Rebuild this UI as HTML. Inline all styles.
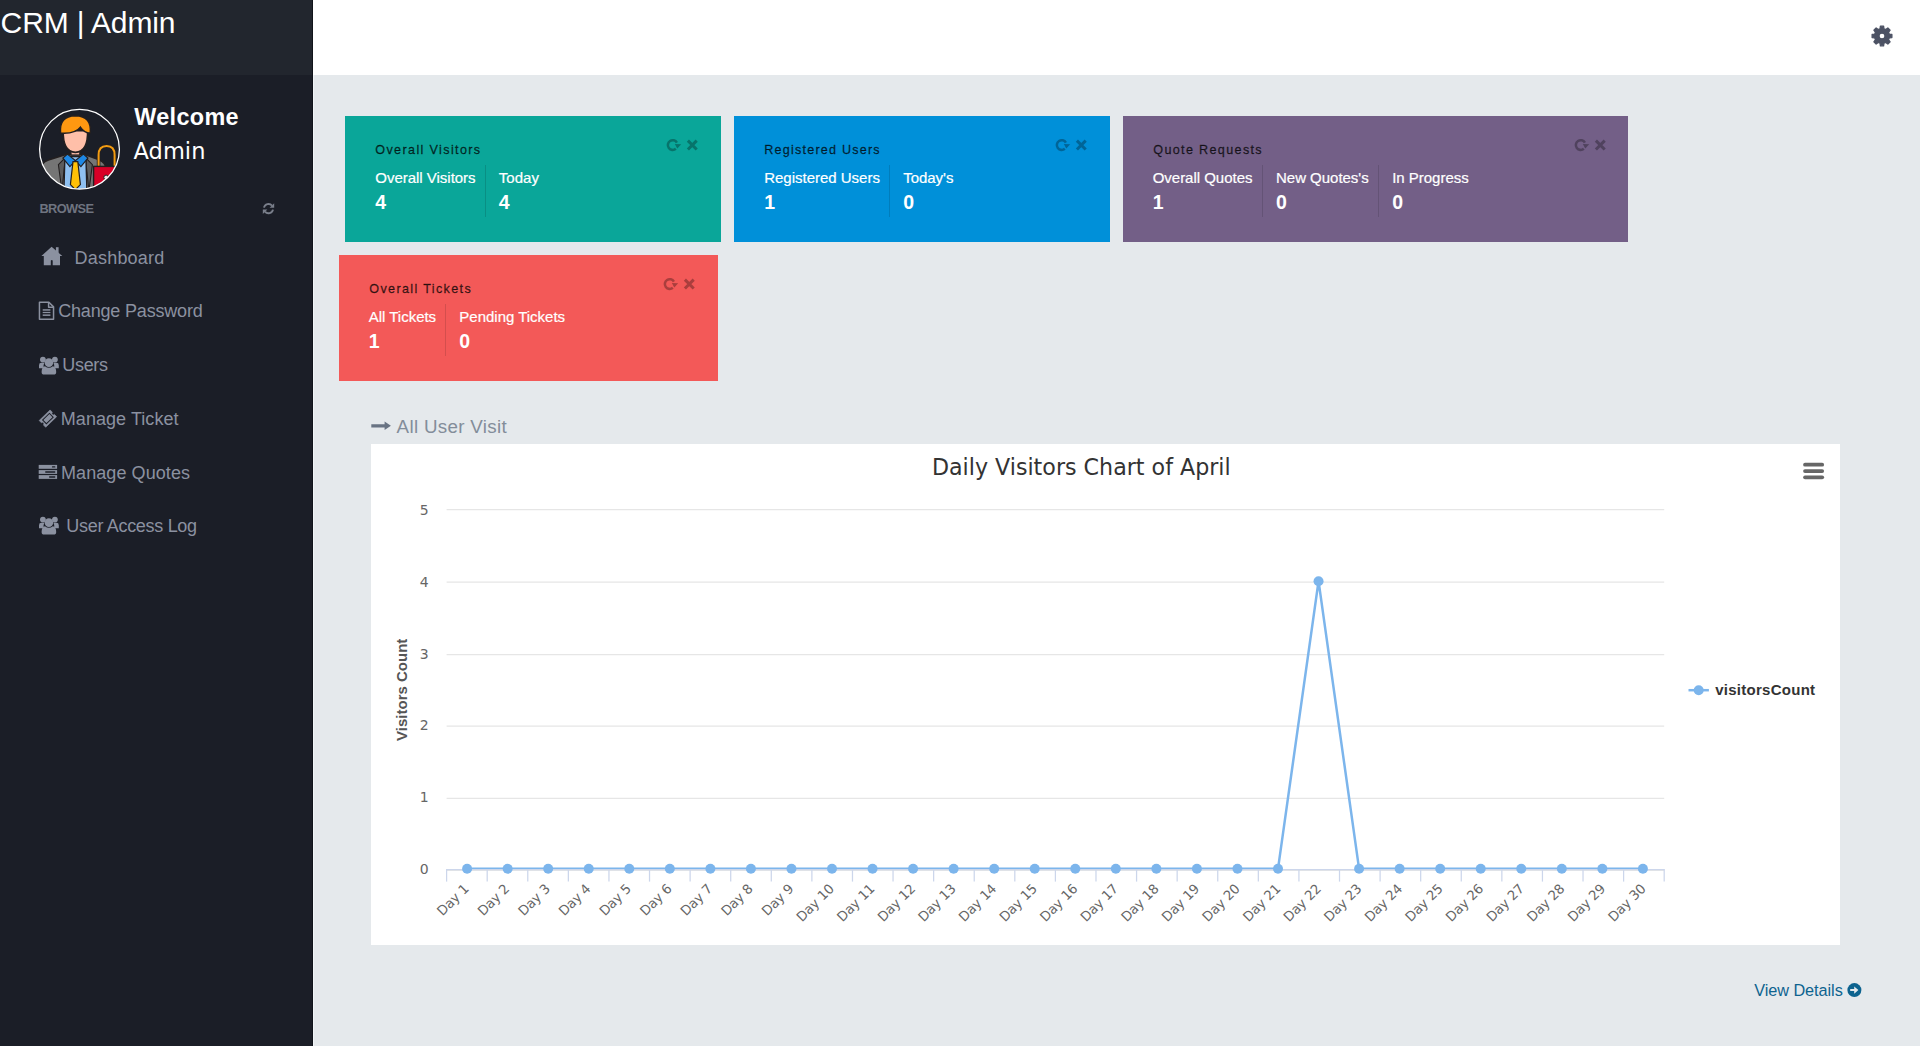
<!DOCTYPE html>
<html lang="en">
<head>
<meta charset="utf-8">
<title>CRM | Admin Dashboard</title>
<style>
*{margin:0;padding:0;box-sizing:border-box}
html,body{width:1920px;height:1046px;overflow:hidden}
body{position:relative;background:#e5e9ec;font-family:"Liberation Sans",Arial,sans-serif;color:#fff}
.abs,.t{position:absolute}
.t{white-space:nowrap;line-height:1;display:block}
.sidebar{position:absolute;left:0;top:0;width:313px;height:1046px;background:#1b1e27}
.brand{position:absolute;left:0;top:0;width:313px;height:75px;background:#22262e}
.topbar{position:absolute;left:313px;top:0;width:1607px;height:75px;background:#fff}
.card{position:absolute;height:126px}
.c1{left:345px;top:116px;width:376px;background:#0aa699}
.c2{left:734px;top:116px;width:376px;background:#0090d9}
.c3{left:1123px;top:116px;width:505px;background:#735f87}
.c4{left:339px;top:255px;width:379px;background:#f35958}
.div{position:absolute;width:1px}
.chartbox{position:absolute;left:371px;top:444px;width:1469px;height:501px;background:#fff}
svg{position:absolute;overflow:visible}
svg.chart{left:0;top:0}
.chart text{font-family:"DejaVu Sans","Liberation Sans",sans-serif}
.chart .yl{font-size:14px;fill:#666}
.chart .xl{letter-spacing:-.15px;font-size:13.3px;fill:#666}
.chart .yt{font-size:15px;font-weight:bold;fill:#555;font-family:"Liberation Sans",sans-serif}
.chart .ct{font-size:22.18px;fill:#333}
.chart .lg{font-size:15px;font-weight:bold;fill:#333;font-family:"Liberation Sans",sans-serif;letter-spacing:.27px}
a{text-decoration:none;color:inherit}
ul{list-style:none}
h3,h4,p,strong{font-weight:normal}
</style>
</head>
<body>
<header>
<div class="topbar"></div>
<svg style="left:1862px;top:16px" width="40" height="40" viewBox="0 0 40 40"><path d="M18.07 12.75 L18.41 10.13 L21.59 10.13 L21.93 12.75 L23.76 13.51 L25.85 11.89 L28.11 14.15 L26.49 16.24 L27.25 18.07 L29.87 18.41 L29.87 21.59 L27.25 21.93 L26.49 23.76 L28.11 25.85 L25.85 28.11 L23.76 26.49 L21.93 27.25 L21.59 29.87 L18.41 29.87 L18.07 27.25 L16.24 26.49 L14.15 28.11 L11.89 25.85 L13.51 23.76 L12.75 21.93 L10.13 21.59 L10.13 18.41 L12.75 18.07 L13.51 16.24 L11.89 14.15 L14.15 11.89 L16.24 13.51 Z M23.00 20.00 A3.0 3.0 0 1 0 17.00 20.00 A3.0 3.0 0 1 0 23.00 20.00 Z" fill="#4c5264" fill-rule="evenodd" stroke="#4c5264" stroke-width="1.3" stroke-linejoin="round"/></svg>
</header>
<aside>
<div class="sidebar"></div><div class="brand"></div><div class="abs" style="left:312px;top:0;width:1px;height:1046px;background:#11141b"></div><div class="abs" style="left:313px;top:75px;width:1px;height:971px;background:#f1f4f7"></div>
<h3 class="t" style="left:0.60px;top:7.70px;font:normal 30px/1 'Liberation Sans',Arial,sans-serif;color:#fff;letter-spacing:-0.126px;">CRM | Admin</h3>
<svg style="left:36px;top:106px" width="88" height="88" viewBox="0 0 88 88">
<defs><clipPath id="avc"><circle cx="43.5" cy="43.3" r="39.6"/></clipPath></defs>
<circle cx="43.5" cy="43.3" r="40" fill="#1b1e27"/>
<g clip-path="url(#avc)">
<g transform="translate(-1.6 0.6)">
<path d="M6 84 V64 Q6 56 14 53.500 L33 47.500 H49 L64 53 Q72 56 72 64 V84 Z" fill="#757575" stroke="#231f20" stroke-width="1.6"/>
<path d="M27.500 84 L31 51 L24 58 Z M54.500 84 L51 51 L58 58 Z" fill="#5c5c5c" stroke="#231f20" stroke-width="1.1"/>
<path d="M29.500 84 L30.500 50 H51.500 L52.500 84 Z" fill="#8fc0f0" stroke="#231f20" stroke-width="1.4"/>
<path d="M33 47.500 L41 54 L35.500 60 L28.500 51.500 Z" fill="#1e88e5" stroke="#231f20" stroke-width="1.2"/>
<path d="M49 47.500 L41 54 L46.500 60 L53.500 51.500 Z" fill="#1e88e5" stroke="#231f20" stroke-width="1.2"/>
<path d="M38.600 55 H43.400 L46 78 L41 83 L36 78 Z" fill="#ffc107" stroke="#231f20" stroke-width="1.2"/>
<rect x="36.500" y="40" width="9" height="8.500" fill="#fbb9a4" stroke="#231f20" stroke-width="1.4"/>
<path d="M28.800 24 Q28.300 45.500 41 45.800 Q53.700 45.500 53.200 24 Z" fill="#ffbfa9" stroke="#231f20" stroke-width="1.6"/>
<path d="M26.200 26.500 Q24.500 9.500 41 9.200 Q57.500 9.500 55.800 26.500 Q50 26.500 46 20.500 Q41 27.500 26.200 26.500 Z" fill="#ff9811" stroke="#231f20" stroke-width="1.4"/>
</g>
<g transform="translate(2.6 1.4)">
<path d="M60 60 V47.500 Q60 38.500 68 38.500 Q76 38.500 76 47.500 V60" fill="none" stroke="#231f20" stroke-width="3.6"/>
<path d="M60 60 V47.500 Q60 38.500 68 38.500 Q76 38.500 76 47.500 V60" fill="none" stroke="#f39c12" stroke-width="2"/>
<rect x="55" y="59" width="30" height="30" fill="#d80027" stroke="#231f20" stroke-width="1.4"/>
<circle cx="67.500" cy="70" r="2.300" fill="#e8e8e8" stroke="#231f20" stroke-width="1"/>
</g>
</g>
<circle cx="43.5" cy="43.3" r="39.9" fill="none" stroke="#fff" stroke-width="1.25"/>
</svg>
<span class="t" style="left:134.20px;top:106.19px;font:bold 23.4px/1 'Liberation Sans',Arial,sans-serif;color:#fff;letter-spacing:0.349px;">Welcome</span>
<span class="t" style="left:133.60px;top:140.16px;font:normal 22.5px/1 'DejaVu Sans','Liberation Sans',sans-serif;color:#fff;letter-spacing:0.023px;">Admin</span>
<p class="t" style="left:39.50px;top:203.36px;font:bold 12.8px/1 'Liberation Sans',Arial,sans-serif;color:#6f7480;letter-spacing:-0.620px;">BROWSE</p>
<svg style="left:259px;top:200px" width="20" height="18" viewBox="0 0 20 18"><g fill="none" stroke="#7a7f8b" stroke-width="1.9"><path d="M5.0 7.6 A4.6 4.6 0 0 1 13.0 5.6"/><path d="M14.0 9.6 A4.6 4.6 0 0 1 6.0 11.6"/></g><g fill="#7a7f8b"><path d="M15.2 3.2 V7.8 H10.6 Z"/><path d="M3.8 14.0 V9.4 H8.4 Z"/></g></svg>
<nav><ul>
<li><svg style="left:36px;top:242px" width="32" height="28" viewBox="0 0 32 28"><g fill="#8b91a0"><path d="M15.6 4.7 L26.3 13.9 H24.0 V23.2 H16.7 V18.4 Q15.75 17.6 14.8 18.4 V23.2 H7.8 V13.9 H5.4 Z"/><rect x="19.9" y="5.2" width="2.7" height="6"/></g></svg><a class="t" href="#" style="left:74.60px;top:248.76px;font:normal 18.0px/1 'Liberation Sans',Arial,sans-serif;color:#8b91a0;letter-spacing:0.193px;">Dashboard</a></li>
<li><svg style="left:36px;top:298px" width="24" height="26" viewBox="0 0 24 26"><g fill="none" stroke="#8b91a0" stroke-width="1.5" stroke-linejoin="round"><path d="M3.45 4.25 H12.9 L17.55 8.9 V21.2 H3.45 Z"/><path d="M12.6 4.5 V9.2 H17.3"/></g><g fill="#8b91a0"><rect x="6.7" y="11.2" width="7.7" height="1.5"/><rect x="6.7" y="13.9" width="7.7" height="1.2"/><rect x="6.7" y="16.4" width="7.7" height="1.5"/></g></svg><a class="t" href="#" style="left:58.20px;top:302.06px;font:normal 18.0px/1 'Liberation Sans',Arial,sans-serif;color:#8b91a0;letter-spacing:-0.178px;">Change Password</a></li>
<li><svg style="left:36.9px;top:353.6px" width="24" height="23" viewBox="0 0 24 23"><g fill="#8b91a0"><circle cx="5.9" cy="5.6" r="2.9"/><circle cx="17.9" cy="5.6" r="2.9"/><path d="M2 14.2 V11.2 Q2 8.8 4.4 8.8 H7.4 Q6.2 10.6 6.6 14.2 Z"/><path d="M21.8 14.2 V11.2 Q21.8 8.8 19.4 8.8 H16.4 Q17.6 10.6 17.2 14.2 Z"/><circle cx="11.9" cy="8.6" r="4.3"/><path d="M4.6 18.0 Q4.6 12.6 8.0 12.2 Q11.9 15.4 15.8 12.2 Q19.2 12.6 19.2 18.0 Q19.2 20.6 16.6 20.6 H7.2 Q4.6 20.6 4.6 18.0 Z"/></g></svg><a class="t" href="#" style="left:62.30px;top:355.56px;font:normal 18.0px/1 'Liberation Sans',Arial,sans-serif;color:#8b91a0;letter-spacing:-0.327px;">Users</a></li>
<li><svg style="left:36px;top:407px" width="24" height="23" viewBox="0 0 24 23"><g transform="translate(11.9 11.6) rotate(-44)"><path d="M-7.6 -4.7 H7.6 V-1.5 A1.5 1.5 0 0 0 7.6 1.5 V4.7 H-7.6 V1.5 A1.5 1.5 0 0 0 -7.6 -1.5 Z" fill="#8b91a0" stroke="#8b91a0" stroke-width=".6" stroke-linejoin="round"/><rect x="-4.7" y="-2.7" width="9.4" height="5.4" fill="none" stroke="#1b1e27" stroke-width="1.0"/></g></svg><a class="t" href="#" style="left:60.80px;top:409.56px;font:normal 18.0px/1 'Liberation Sans',Arial,sans-serif;color:#8b91a0;letter-spacing:0.053px;">Manage Ticket</a></li>
<li><svg style="left:36px;top:462px" width="24" height="20" viewBox="0 0 24 20"><g fill="#8b91a0"><rect x="2.7" y="2.9" width="18.4" height="3.9"/><rect x="2.7" y="8.1" width="18.4" height="3.8"/><rect x="2.7" y="13.1" width="18.4" height="3.8"/></g><g fill="#1b1e27"><rect x="15.9" y="4.2" width="3.5" height="1.3" rx=".6"/><rect x="9.1" y="9.3" width="10.3" height="1.4" rx=".6"/><rect x="13.0" y="14.3" width="6.4" height="1.4" rx=".6"/></g></svg><a class="t" href="#" style="left:61.00px;top:464.26px;font:normal 18.0px/1 'Liberation Sans',Arial,sans-serif;color:#8b91a0;letter-spacing:0.076px;">Manage Quotes</a></li>
<li><svg style="left:37.1px;top:514.4px" width="24" height="23" viewBox="0 0 24 23"><g fill="#8b91a0"><circle cx="5.9" cy="5.6" r="2.9"/><circle cx="17.9" cy="5.6" r="2.9"/><path d="M2 14.2 V11.2 Q2 8.8 4.4 8.8 H7.4 Q6.2 10.6 6.6 14.2 Z"/><path d="M21.8 14.2 V11.2 Q21.8 8.8 19.4 8.8 H16.4 Q17.6 10.6 17.2 14.2 Z"/><circle cx="11.9" cy="8.6" r="4.3"/><path d="M4.6 18.0 Q4.6 12.6 8.0 12.2 Q11.9 15.4 15.8 12.2 Q19.2 12.6 19.2 18.0 Q19.2 20.6 16.6 20.6 H7.2 Q4.6 20.6 4.6 18.0 Z"/></g></svg><a class="t" href="#" style="left:66.30px;top:516.76px;font:normal 18.0px/1 'Liberation Sans',Arial,sans-serif;color:#8b91a0;letter-spacing:-0.305px;">User Access Log</a></li>
</ul></nav>
</aside>
<main>
<section class="tile">
<div class="card c1"></div>
<h4 class="t" style="left:375.30px;top:143.53px;font:normal 12.6px/1 'Liberation Sans',Arial,sans-serif;color:rgba(0,0,0,.72);letter-spacing:1.361px;-webkit-text-stroke:.3px rgba(0,0,0,.72);">Overall Visitors</h4>
<span class="t" style="left:375.30px;top:169.70px;font:normal 15px/1 'Liberation Sans',Arial,sans-serif;color:#fff;letter-spacing:-0.019px;-webkit-text-stroke:.2px #fff;">Overall Visitors</span>
<strong class="t" style="left:375.30px;top:192.89px;font:bold 19.5px/1 'Liberation Sans',Arial,sans-serif;color:#fff;">4</strong>
<span class="t" style="left:498.80px;top:169.70px;font:normal 15px/1 'Liberation Sans',Arial,sans-serif;color:#fff;letter-spacing:0.018px;-webkit-text-stroke:.2px #fff;">Today</span>
<strong class="t" style="left:498.80px;top:192.89px;font:bold 19.5px/1 'Liberation Sans',Arial,sans-serif;color:#fff;">4</strong>
<div class="div" style="left:485px;top:165px;height:52px;background:#098f84"></div>
<svg style="left:665.40px;top:137.40px" width="36" height="16" viewBox="0 0 36 16"><path d="M11.90 5.63 A4.85 4.85 0 1 0 10.82 11.77" fill="none" stroke="#07746b" stroke-width="2.55"/><path d="M9.8 6.9 L16.2 7.2 L12.3 11.4 Z" fill="#07746b"/><path d="M22.9 3.65 L31.7 12.45 M31.7 3.65 L22.9 12.45" stroke="#07746b" stroke-width="3.0" fill="none"/></svg>
</section>
<section class="tile">
<div class="card c2"></div>
<h4 class="t" style="left:764.30px;top:143.53px;font:normal 12.6px/1 'Liberation Sans',Arial,sans-serif;color:rgba(0,0,0,.72);letter-spacing:1.204px;-webkit-text-stroke:.3px rgba(0,0,0,.72);">Registered Users</h4>
<span class="t" style="left:764.20px;top:169.70px;font:normal 15px/1 'Liberation Sans',Arial,sans-serif;color:#fff;letter-spacing:-0.012px;-webkit-text-stroke:.2px #fff;">Registered Users</span>
<strong class="t" style="left:764.20px;top:192.89px;font:bold 19.5px/1 'Liberation Sans',Arial,sans-serif;color:#fff;">1</strong>
<span class="t" style="left:903.20px;top:169.70px;font:normal 15px/1 'Liberation Sans',Arial,sans-serif;color:#fff;letter-spacing:-0.032px;-webkit-text-stroke:.2px #fff;">Today&#x27;s</span>
<strong class="t" style="left:903.20px;top:192.89px;font:bold 19.5px/1 'Liberation Sans',Arial,sans-serif;color:#fff;">0</strong>
<div class="div" style="left:889px;top:165px;height:52px;background:#007dbc"></div>
<svg style="left:1054.40px;top:137.40px" width="36" height="16" viewBox="0 0 36 16"><path d="M11.90 5.63 A4.85 4.85 0 1 0 10.82 11.77" fill="none" stroke="#006598" stroke-width="2.55"/><path d="M9.8 6.9 L16.2 7.2 L12.3 11.4 Z" fill="#006598"/><path d="M22.9 3.65 L31.7 12.45 M31.7 3.65 L22.9 12.45" stroke="#006598" stroke-width="3.0" fill="none"/></svg>
</section>
<section class="tile">
<div class="card c3"></div>
<h4 class="t" style="left:1153.30px;top:143.53px;font:normal 12.6px/1 'Liberation Sans',Arial,sans-serif;color:rgba(0,0,0,.72);letter-spacing:1.334px;-webkit-text-stroke:.3px rgba(0,0,0,.72);">Quote Requests</h4>
<span class="t" style="left:1152.70px;top:169.70px;font:normal 15px/1 'Liberation Sans',Arial,sans-serif;color:#fff;letter-spacing:-0.019px;-webkit-text-stroke:.2px #fff;">Overall Quotes</span>
<strong class="t" style="left:1152.70px;top:192.89px;font:bold 19.5px/1 'Liberation Sans',Arial,sans-serif;color:#fff;">1</strong>
<span class="t" style="left:1276.00px;top:169.70px;font:normal 15px/1 'Liberation Sans',Arial,sans-serif;color:#fff;letter-spacing:-0.018px;-webkit-text-stroke:.2px #fff;">New Quotes&#x27;s</span>
<strong class="t" style="left:1276.00px;top:192.89px;font:bold 19.5px/1 'Liberation Sans',Arial,sans-serif;color:#fff;">0</strong>
<span class="t" style="left:1392.20px;top:169.70px;font:normal 15px/1 'Liberation Sans',Arial,sans-serif;color:#fff;letter-spacing:-0.020px;-webkit-text-stroke:.2px #fff;">In Progress</span>
<strong class="t" style="left:1392.20px;top:192.89px;font:bold 19.5px/1 'Liberation Sans',Arial,sans-serif;color:#fff;">0</strong>
<div class="div" style="left:1262px;top:165px;height:52px;background:#645376"></div>
<div class="div" style="left:1378px;top:165px;height:52px;background:#645376"></div>
<svg style="left:1572.80px;top:137.40px" width="36" height="16" viewBox="0 0 36 16"><path d="M11.90 5.63 A4.85 4.85 0 1 0 10.82 11.77" fill="none" stroke="#50425e" stroke-width="2.55"/><path d="M9.8 6.9 L16.2 7.2 L12.3 11.4 Z" fill="#50425e"/><path d="M22.9 3.65 L31.7 12.45 M31.7 3.65 L22.9 12.45" stroke="#50425e" stroke-width="3.0" fill="none"/></svg>
</section>
<section class="tile">
<div class="card c4"></div>
<h4 class="t" style="left:369.30px;top:282.53px;font:normal 12.6px/1 'Liberation Sans',Arial,sans-serif;color:rgba(0,0,0,.72);letter-spacing:1.349px;-webkit-text-stroke:.3px rgba(0,0,0,.72);">Overall Tickets</h4>
<span class="t" style="left:368.80px;top:308.70px;font:normal 15px/1 'Liberation Sans',Arial,sans-serif;color:#fff;letter-spacing:-0.022px;-webkit-text-stroke:.2px #fff;">All Tickets</span>
<strong class="t" style="left:368.80px;top:331.89px;font:bold 19.5px/1 'Liberation Sans',Arial,sans-serif;color:#fff;">1</strong>
<span class="t" style="left:459.30px;top:308.70px;font:normal 15px/1 'Liberation Sans',Arial,sans-serif;color:#fff;letter-spacing:-0.007px;-webkit-text-stroke:.2px #fff;">Pending Tickets</span>
<strong class="t" style="left:459.30px;top:331.89px;font:bold 19.5px/1 'Liberation Sans',Arial,sans-serif;color:#fff;">0</strong>
<div class="div" style="left:445px;top:304px;height:52px;background:#d44e4d"></div>
<svg style="left:662.40px;top:276.40px" width="36" height="16" viewBox="0 0 36 16"><path d="M11.90 5.63 A4.85 4.85 0 1 0 10.82 11.77" fill="none" stroke="#aa3e3d" stroke-width="2.55"/><path d="M9.8 6.9 L16.2 7.2 L12.3 11.4 Z" fill="#aa3e3d"/><path d="M22.9 3.65 L31.7 12.45 M31.7 3.65 L22.9 12.45" stroke="#aa3e3d" stroke-width="3.0" fill="none"/></svg>
</section>
<section class="visits">
<svg style="left:369px;top:418px" width="26" height="16" viewBox="0 0 26 16"><path d="M2.3 6.2 H15.6 V3.6 L21.9 7.8 L15.6 12.0 V9.4 H2.3 Z" fill="#687383"/></svg>
<h4 class="t" style="left:396.60px;top:417.68px;font:normal 18.8px/1 'Liberation Sans',Arial,sans-serif;color:#838d9a;letter-spacing:0.307px;">All User Visit</h4>
<div class="chartbox"><svg class="chart" width="1469" height="501" viewBox="0 0 1469 501">
<defs><clipPath id="plotclip"><rect x="75.6" y="0" width="1217.6" height="425.1"/></clipPath></defs>
<line x1="75.6" x2="1293.2" y1="426.30" y2="426.30" stroke="#e6e6e6" stroke-width="1.25"/>
<line x1="75.6" x2="1293.2" y1="354.30" y2="354.30" stroke="#e6e6e6" stroke-width="1.25"/>
<line x1="75.6" x2="1293.2" y1="282.00" y2="282.00" stroke="#e6e6e6" stroke-width="1.25"/>
<line x1="75.6" x2="1293.2" y1="210.50" y2="210.50" stroke="#e6e6e6" stroke-width="1.25"/>
<line x1="75.6" x2="1293.2" y1="138.10" y2="138.10" stroke="#e6e6e6" stroke-width="1.25"/>
<line x1="75.6" x2="1293.2" y1="65.60" y2="65.60" stroke="#e6e6e6" stroke-width="1.25"/>
<line x1="75.0" x2="1293.8" y1="425.60" y2="425.60" stroke="#ccd6eb" stroke-width="1.25"/>
<line x1="75.60" x2="75.60" y1="425.60" y2="437.60" stroke="#ccd6eb" stroke-width="1.25"/>
<line x1="116.19" x2="116.19" y1="425.60" y2="437.60" stroke="#ccd6eb" stroke-width="1.25"/>
<line x1="156.77" x2="156.77" y1="425.60" y2="437.60" stroke="#ccd6eb" stroke-width="1.25"/>
<line x1="197.36" x2="197.36" y1="425.60" y2="437.60" stroke="#ccd6eb" stroke-width="1.25"/>
<line x1="237.95" x2="237.95" y1="425.60" y2="437.60" stroke="#ccd6eb" stroke-width="1.25"/>
<line x1="278.53" x2="278.53" y1="425.60" y2="437.60" stroke="#ccd6eb" stroke-width="1.25"/>
<line x1="319.12" x2="319.12" y1="425.60" y2="437.60" stroke="#ccd6eb" stroke-width="1.25"/>
<line x1="359.71" x2="359.71" y1="425.60" y2="437.60" stroke="#ccd6eb" stroke-width="1.25"/>
<line x1="400.29" x2="400.29" y1="425.60" y2="437.60" stroke="#ccd6eb" stroke-width="1.25"/>
<line x1="440.88" x2="440.88" y1="425.60" y2="437.60" stroke="#ccd6eb" stroke-width="1.25"/>
<line x1="481.47" x2="481.47" y1="425.60" y2="437.60" stroke="#ccd6eb" stroke-width="1.25"/>
<line x1="522.05" x2="522.05" y1="425.60" y2="437.60" stroke="#ccd6eb" stroke-width="1.25"/>
<line x1="562.64" x2="562.64" y1="425.60" y2="437.60" stroke="#ccd6eb" stroke-width="1.25"/>
<line x1="603.23" x2="603.23" y1="425.60" y2="437.60" stroke="#ccd6eb" stroke-width="1.25"/>
<line x1="643.81" x2="643.81" y1="425.60" y2="437.60" stroke="#ccd6eb" stroke-width="1.25"/>
<line x1="684.40" x2="684.40" y1="425.60" y2="437.60" stroke="#ccd6eb" stroke-width="1.25"/>
<line x1="724.99" x2="724.99" y1="425.60" y2="437.60" stroke="#ccd6eb" stroke-width="1.25"/>
<line x1="765.57" x2="765.57" y1="425.60" y2="437.60" stroke="#ccd6eb" stroke-width="1.25"/>
<line x1="806.16" x2="806.16" y1="425.60" y2="437.60" stroke="#ccd6eb" stroke-width="1.25"/>
<line x1="846.75" x2="846.75" y1="425.60" y2="437.60" stroke="#ccd6eb" stroke-width="1.25"/>
<line x1="887.33" x2="887.33" y1="425.60" y2="437.60" stroke="#ccd6eb" stroke-width="1.25"/>
<line x1="927.92" x2="927.92" y1="425.60" y2="437.60" stroke="#ccd6eb" stroke-width="1.25"/>
<line x1="968.51" x2="968.51" y1="425.60" y2="437.60" stroke="#ccd6eb" stroke-width="1.25"/>
<line x1="1009.09" x2="1009.09" y1="425.60" y2="437.60" stroke="#ccd6eb" stroke-width="1.25"/>
<line x1="1049.68" x2="1049.68" y1="425.60" y2="437.60" stroke="#ccd6eb" stroke-width="1.25"/>
<line x1="1090.27" x2="1090.27" y1="425.60" y2="437.60" stroke="#ccd6eb" stroke-width="1.25"/>
<line x1="1130.85" x2="1130.85" y1="425.60" y2="437.60" stroke="#ccd6eb" stroke-width="1.25"/>
<line x1="1171.44" x2="1171.44" y1="425.60" y2="437.60" stroke="#ccd6eb" stroke-width="1.25"/>
<line x1="1212.03" x2="1212.03" y1="425.60" y2="437.60" stroke="#ccd6eb" stroke-width="1.25"/>
<line x1="1252.61" x2="1252.61" y1="425.60" y2="437.60" stroke="#ccd6eb" stroke-width="1.25"/>
<line x1="1293.20" x2="1293.20" y1="425.60" y2="437.60" stroke="#ccd6eb" stroke-width="1.25"/>
<text x="57.6" y="430.00" text-anchor="end" class="yl">0</text>
<text x="57.6" y="358.20" text-anchor="end" class="yl">1</text>
<text x="57.6" y="286.40" text-anchor="end" class="yl">2</text>
<text x="57.6" y="214.60" text-anchor="end" class="yl">3</text>
<text x="57.6" y="142.80" text-anchor="end" class="yl">4</text>
<text x="57.6" y="71.00" text-anchor="end" class="yl">5</text>
<text transform="translate(36.2,245.8) rotate(-90)" text-anchor="middle" class="yt">Visitors Count</text>
<text x="710.3" y="30.5" text-anchor="middle" class="ct">Daily Visitors Chart of April</text>
<polyline clip-path="url(#plotclip)" points="96.10,424.80 136.65,424.80 177.19,424.80 217.74,424.80 258.28,424.80 298.83,424.80 339.37,424.80 379.91,424.80 420.46,424.80 461.01,424.80 501.55,424.80 542.10,424.80 582.64,424.80 623.19,424.80 663.73,424.80 704.28,424.80 744.82,424.80 785.37,424.80 825.91,424.80 866.45,424.80 907.00,424.80 947.55,137.20 988.09,424.80 1028.64,424.80 1069.18,424.80 1109.72,424.80 1150.27,424.80 1190.82,424.80 1231.36,424.80 1271.91,424.80" fill="none" stroke="#7cb5ec" stroke-width="2.5" stroke-linejoin="round" stroke-linecap="round"/>
<circle cx="96.10" cy="424.80" r="5" fill="#7cb5ec"/>
<circle cx="136.65" cy="424.80" r="5" fill="#7cb5ec"/>
<circle cx="177.19" cy="424.80" r="5" fill="#7cb5ec"/>
<circle cx="217.74" cy="424.80" r="5" fill="#7cb5ec"/>
<circle cx="258.28" cy="424.80" r="5" fill="#7cb5ec"/>
<circle cx="298.83" cy="424.80" r="5" fill="#7cb5ec"/>
<circle cx="339.37" cy="424.80" r="5" fill="#7cb5ec"/>
<circle cx="379.91" cy="424.80" r="5" fill="#7cb5ec"/>
<circle cx="420.46" cy="424.80" r="5" fill="#7cb5ec"/>
<circle cx="461.01" cy="424.80" r="5" fill="#7cb5ec"/>
<circle cx="501.55" cy="424.80" r="5" fill="#7cb5ec"/>
<circle cx="542.10" cy="424.80" r="5" fill="#7cb5ec"/>
<circle cx="582.64" cy="424.80" r="5" fill="#7cb5ec"/>
<circle cx="623.19" cy="424.80" r="5" fill="#7cb5ec"/>
<circle cx="663.73" cy="424.80" r="5" fill="#7cb5ec"/>
<circle cx="704.28" cy="424.80" r="5" fill="#7cb5ec"/>
<circle cx="744.82" cy="424.80" r="5" fill="#7cb5ec"/>
<circle cx="785.37" cy="424.80" r="5" fill="#7cb5ec"/>
<circle cx="825.91" cy="424.80" r="5" fill="#7cb5ec"/>
<circle cx="866.45" cy="424.80" r="5" fill="#7cb5ec"/>
<circle cx="907.00" cy="424.80" r="5" fill="#7cb5ec"/>
<circle cx="947.55" cy="137.20" r="5" fill="#7cb5ec"/>
<circle cx="988.09" cy="424.80" r="5" fill="#7cb5ec"/>
<circle cx="1028.64" cy="424.80" r="5" fill="#7cb5ec"/>
<circle cx="1069.18" cy="424.80" r="5" fill="#7cb5ec"/>
<circle cx="1109.72" cy="424.80" r="5" fill="#7cb5ec"/>
<circle cx="1150.27" cy="424.80" r="5" fill="#7cb5ec"/>
<circle cx="1190.82" cy="424.80" r="5" fill="#7cb5ec"/>
<circle cx="1231.36" cy="424.80" r="5" fill="#7cb5ec"/>
<circle cx="1271.91" cy="424.80" r="5" fill="#7cb5ec"/>
<text transform="translate(98.59,445.60) rotate(-45)" text-anchor="end" class="xl">Day 1</text>
<text transform="translate(139.18,445.60) rotate(-45)" text-anchor="end" class="xl">Day 2</text>
<text transform="translate(179.77,445.60) rotate(-45)" text-anchor="end" class="xl">Day 3</text>
<text transform="translate(220.35,445.60) rotate(-45)" text-anchor="end" class="xl">Day 4</text>
<text transform="translate(260.94,445.60) rotate(-45)" text-anchor="end" class="xl">Day 5</text>
<text transform="translate(301.53,445.60) rotate(-45)" text-anchor="end" class="xl">Day 6</text>
<text transform="translate(342.11,445.60) rotate(-45)" text-anchor="end" class="xl">Day 7</text>
<text transform="translate(382.70,445.60) rotate(-45)" text-anchor="end" class="xl">Day 8</text>
<text transform="translate(423.29,445.60) rotate(-45)" text-anchor="end" class="xl">Day 9</text>
<text transform="translate(463.87,445.60) rotate(-45)" text-anchor="end" class="xl">Day 10</text>
<text transform="translate(504.46,445.60) rotate(-45)" text-anchor="end" class="xl">Day 11</text>
<text transform="translate(545.05,445.60) rotate(-45)" text-anchor="end" class="xl">Day 12</text>
<text transform="translate(585.63,445.60) rotate(-45)" text-anchor="end" class="xl">Day 13</text>
<text transform="translate(626.22,445.60) rotate(-45)" text-anchor="end" class="xl">Day 14</text>
<text transform="translate(666.81,445.60) rotate(-45)" text-anchor="end" class="xl">Day 15</text>
<text transform="translate(707.39,445.60) rotate(-45)" text-anchor="end" class="xl">Day 16</text>
<text transform="translate(747.98,445.60) rotate(-45)" text-anchor="end" class="xl">Day 17</text>
<text transform="translate(788.57,445.60) rotate(-45)" text-anchor="end" class="xl">Day 18</text>
<text transform="translate(829.15,445.60) rotate(-45)" text-anchor="end" class="xl">Day 19</text>
<text transform="translate(869.74,445.60) rotate(-45)" text-anchor="end" class="xl">Day 20</text>
<text transform="translate(910.33,445.60) rotate(-45)" text-anchor="end" class="xl">Day 21</text>
<text transform="translate(950.91,445.60) rotate(-45)" text-anchor="end" class="xl">Day 22</text>
<text transform="translate(991.50,445.60) rotate(-45)" text-anchor="end" class="xl">Day 23</text>
<text transform="translate(1032.09,445.60) rotate(-45)" text-anchor="end" class="xl">Day 24</text>
<text transform="translate(1072.67,445.60) rotate(-45)" text-anchor="end" class="xl">Day 25</text>
<text transform="translate(1113.26,445.60) rotate(-45)" text-anchor="end" class="xl">Day 26</text>
<text transform="translate(1153.85,445.60) rotate(-45)" text-anchor="end" class="xl">Day 27</text>
<text transform="translate(1194.43,445.60) rotate(-45)" text-anchor="end" class="xl">Day 28</text>
<text transform="translate(1235.02,445.60) rotate(-45)" text-anchor="end" class="xl">Day 29</text>
<text transform="translate(1275.61,445.60) rotate(-45)" text-anchor="end" class="xl">Day 30</text>
<line x1="1317.5" x2="1337.9" y1="246.2" y2="246.2" stroke="#7cb5ec" stroke-width="2.5"/>
<circle cx="1327.7" cy="246.2" r="5" fill="#7cb5ec"/>
<text x="1344.2" y="250.6" class="lg">visitorsCount</text>
<line x1="1434.0" x2="1451.2" y1="20.7" y2="20.7" stroke="#666" stroke-width="3.75" stroke-linecap="round"/>
<line x1="1434.0" x2="1451.2" y1="27.0" y2="27.0" stroke="#666" stroke-width="3.75" stroke-linecap="round"/>
<line x1="1434.0" x2="1451.2" y1="33.3" y2="33.3" stroke="#666" stroke-width="3.75" stroke-linecap="round"/>
</svg></div>
<a class="t" href="#" style="left:1754.20px;top:982.24px;font:normal 16.25px/1 'Liberation Sans',Arial,sans-serif;color:#0d638f;letter-spacing:-0.047px;">View Details</a>
<svg style="left:1845px;top:981px" width="20" height="20" viewBox="0 0 20 20"><circle cx="9.4" cy="9.1" r="7.0" fill="#0d638f"/><path d="M5.2 8.1 H9.2 V5.4 L13.4 9.1 L9.2 12.8 V10.1 H5.2 Z" fill="#e5e9ec"/></svg>
</section>
</main>
</body>
</html>
